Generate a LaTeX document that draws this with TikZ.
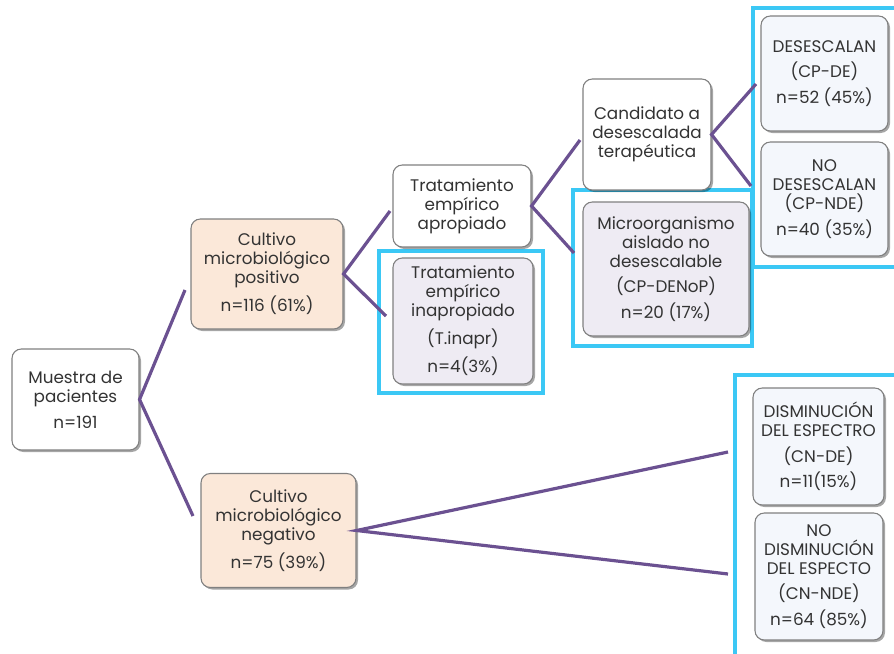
\documentclass[tikz,border=0pt]{standalone}
\usepackage{fontspec}
\setmainfont{Poppins}
\usetikzlibrary{shadows}
\definecolor{lnpurple}{HTML}{6B5191}
\definecolor{frcyan}{HTML}{3BC8F5}
\definecolor{peach}{HTML}{FBE8D9}
\definecolor{lavend}{HTML}{EEEBF3}
\definecolor{paleblue}{HTML}{F4F7FC}
\definecolor{txtgray}{HTML}{333333}
\definecolor{bordgray}{HTML}{808080}
\tikzset{
  box/.style={draw=bordgray, line width=0.8pt, rounded corners=7pt, fill=white,
    text=txtgray, align=center, inner sep=0pt,
    font=\fontsize{12.6}{14.25}\selectfont,
    drop shadow={shadow xshift=1.5pt, shadow yshift=-1.5pt, fill=black, opacity=0.35}},
  conn/.style={draw=lnpurple, line width=2.4pt},
  frame/.style={draw=frcyan, line width=3.6pt},
}
\newcommand{\gp}{\\[5pt]}
\begin{document}
\begin{tikzpicture}[x=0.75pt,y=-0.75pt]
\useasboundingbox (0,0) rectangle (894,654);
% frames
\draw[frame] (379,251) rectangle (543,393);
\draw[frame] (573,190) rectangle (752,346);
\draw[frame] (753,8) rectangle (900,267);
\draw[frame] (735,375) rectangle (900,660);
% nodes
\node[box, minimum width=127*0.75pt, minimum height=101*0.75pt] (mu) at (75.5,399.5) {Muestra de\\pacientes\gp n=191};
\node[box, fill=peach, minimum width=152*0.75pt, minimum height=110*0.75pt] (cp) at (267,274) {Cultivo\\microbiológico\\positivo\gp n=116 (61\%)};
\node[box, fill=peach, minimum width=155*0.75pt, minimum height=114*0.75pt] (cn) at (278.5,530.5) {Cultivo\\microbiológico\\negativo\gp n=75 (39\%)};
\node[box, minimum width=138*0.75pt, minimum height=82*0.75pt] (ta) at (462,206) {Tratamiento\\empírico\\apropiado};
\node[box, fill=lavend, minimum width=140*0.75pt, minimum height=126*0.75pt] (ti) at (463,321) {Tratamiento\\empírico\\inapropiado\gp (T.inapr)\gp n=4(3\%)};
\node[box, minimum width=128*0.75pt, minimum height=111*0.75pt] (ca) at (647,134.5) {Candidato a\\desescalada\\terapéutica};
\node[box, fill=lavend, minimum width=166*0.75pt, minimum height=134*0.75pt] (mi) at (666,269) {Microorganismo\\aislado no\\desescalable\gp (CP-DENoP)\gp n=20 (17\%)};
\node[box, fill=paleblue, minimum width=127*0.75pt, minimum height=115*0.75pt] (de) at (824.5,73.5) {DESESCALAN\gp (CP-DE)\gp n=52 (45\%)};
\node[box, fill=paleblue, minimum width=127*0.75pt, minimum height=114*0.75pt] (nd) at (824.5,199) {NO\\DESESCALAN\\(CP-NDE)\gp n=40 (35\%)};
\node[box, fill=paleblue, minimum width=131*0.75pt, minimum height=117*0.75pt] (dd) at (818.5,446.5) {DISMINUCIÓN\\DEL ESPECTRO\gp (CN-DE)\gp n=11(15\%)};
\node[box, fill=paleblue, minimum width=128*0.75pt, minimum height=127*0.75pt] (nn) at (819,576.5) {NO\\DISMINUCIÓN\\DEL ESPECTO\gp (CN-NDE)\gp n=64 (85\%)};
% connector end points
\coordinate (e1) at (185,290);
\coordinate (e2) at (193,516);
\coordinate (e3) at (390,211);
\coordinate (e4) at (386,316);
\coordinate (e5) at (580,140);
\coordinate (e6) at (574,253);
\coordinate (e7) at (756,84);
\coordinate (e8) at (751,186);
\coordinate (e9) at (728,452);
\coordinate (e10) at (728,574);
\draw[conn] (e1) -- (mu.east) -- (e2);
\draw[conn] (e3) -- (cp.east) -- (e4);
\draw[conn] (e5) -- (ta.east) -- (e6);
\draw[conn] (e7) -- (ca.east) -- (e8);
\draw[conn] (e9) -- (cn.east) -- (e10);
\end{tikzpicture}
\end{document}
